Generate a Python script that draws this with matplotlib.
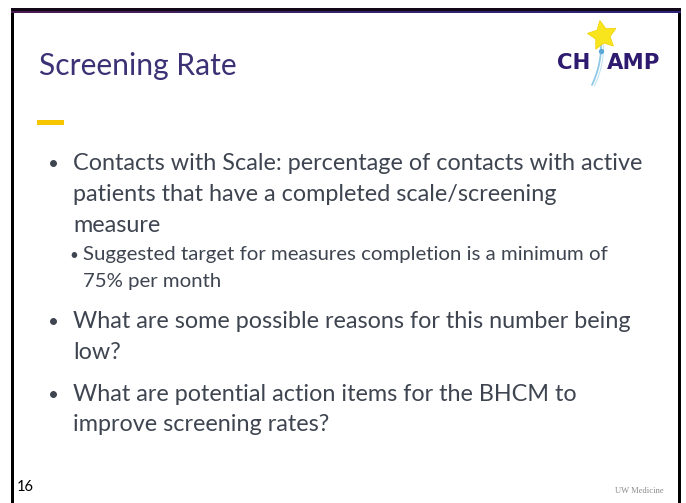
import matplotlib
matplotlib.use("Agg")
import matplotlib.pyplot as plt
import numpy as np
from matplotlib.patches import Rectangle

# ---- content ----
title = "Screening Rate"
main_bullets = [
    ["Contacts with Scale: percentage of contacts with active",
     "patients that have a completed scale/screening",
     "measure"],
    ["What are some possible reasons for this number being",
     "low?"],
    ["What are potential action items for the BHCM to",
     "improve screening rates?"],
]
sub_bullet = ["Suggested target for measures completion is a minimum of",
              "75% per month"]
slide_number = "16"
footer = "UW Medicine"
logo_left, logo_right = "CH", "AMP"

W, H = 686, 503
fig = plt.figure(figsize=(W / 100, H / 100), dpi=100)
ax = fig.add_axes([0, 0, 1, 1])
ax.set_xlim(0, W)
ax.set_ylim(H, 0)
ax.axis("off")
renderer = fig.canvas.get_renderer()

BODY = "Lato"
body_color = "#3e4550"
title_color = "#3b3175"


def fit(text, width, **kw):
    t = ax.text(0, 0, text, fontsize=20, **kw)
    w = t.get_window_extent(renderer).width
    t.remove()
    return 20 * width / w


# ---- frame ----
ax.add_patch(Rectangle((11, 8), 3, H - 8, color="black", lw=0))
ax.add_patch(Rectangle((678, 8), 3, H - 8, color="black", lw=0))
ax.add_patch(Rectangle((11, 8), 670, 3, color="#120818", lw=0))
grad = np.linspace(0, 1, 256).reshape(1, -1)
cmap = matplotlib.colors.LinearSegmentedColormap.from_list("g", ["#4a1a50", "#34246a", "#2a2278"])
ax.imshow(grad, extent=(11, 681, 13, 11), aspect="auto", cmap=cmap, zorder=2)
ax.set_xlim(0, W)
ax.set_ylim(H, 0)

# ---- title ----
fs_title = fit(title, 198, family=BODY)
ax.text(39, 75, title, fontsize=fs_title, family=BODY,
        color=title_color, va="baseline", ha="left")
ax.add_patch(Rectangle((37, 120), 27, 5, color="#f7c600", lw=0))

# ---- body ----
fs_body = fit(main_bullets[0][0], 570, family=BODY)
fs_sub = fit(sub_bullet[0], 525, family=BODY)

main_baselines = [[170, 201, 232], [328, 359], [401, 431]]
for lines, bls in zip(main_bullets, main_baselines):
    ax.text(54, bls[0], "•", fontsize=fs_body * 0.8, family=BODY, color=body_color,
            va="baseline", ha="center")
    for line, y in zip(lines, bls):
        ax.text(73, y, line, fontsize=fs_body, family=BODY, color=body_color,
                va="baseline", ha="left")

sub_baselines = [260, 287]
ax.text(73.5, sub_baselines[0], "•", fontsize=fs_sub * 0.75, family=BODY, color=body_color,
        va="baseline", ha="center")
for line, y in zip(sub_bullet, sub_baselines):
    ax.text(83, y, line, fontsize=fs_sub, family=BODY, color=body_color,
            va="baseline", ha="left")

# ---- footer ----
fs_num = fit(slide_number, 17, family=BODY)
ax.text(17, 491, slide_number, fontsize=fs_num, family=BODY, color="black",
        va="baseline", ha="left")
fs_foot = fit(footer, 48, family="Liberation Serif")
ax.text(664, 493, footer, fontsize=fs_foot, family="Liberation Serif", color="#8a8a8a",
        va="baseline", ha="right")

# ---- logo ----
logo_color = "#2e1a6e"
LOGO = "DejaVu Sans"
fs_logo = fit(logo_right, 53, family=LOGO, fontweight="bold")
ax.text(590, 68.5, logo_left, fontsize=fs_logo, family=LOGO, fontweight="bold",
        color=logo_color, va="baseline", ha="right")
ax.text(607, 68.5, logo_right, fontsize=fs_logo, family=LOGO, fontweight="bold",
        color=logo_color, va="baseline", ha="left")
tt = np.linspace(0, 1, 40)
sx = 601 + 1 * tt - 10 * tt ** 2
sy = 44 + 41 * tt
ax.plot(sx, sy, color="#8fc8e8", lw=1.3, solid_capstyle="round", zorder=3)
ax.plot(sx + 2.5, sy + 1, color="#c2e3f2", lw=0.8, zorder=3)
ax.plot([601], [51], marker="o", ms=2.8, color="#5aa8d8", zorder=4)
ax.plot([602], [35], marker=(5, 1, 10), ms=22, color="#f8e51e", mec="#f0d000",
        mew=0.5, zorder=5)

fig.savefig("out.png", dpi=100)
